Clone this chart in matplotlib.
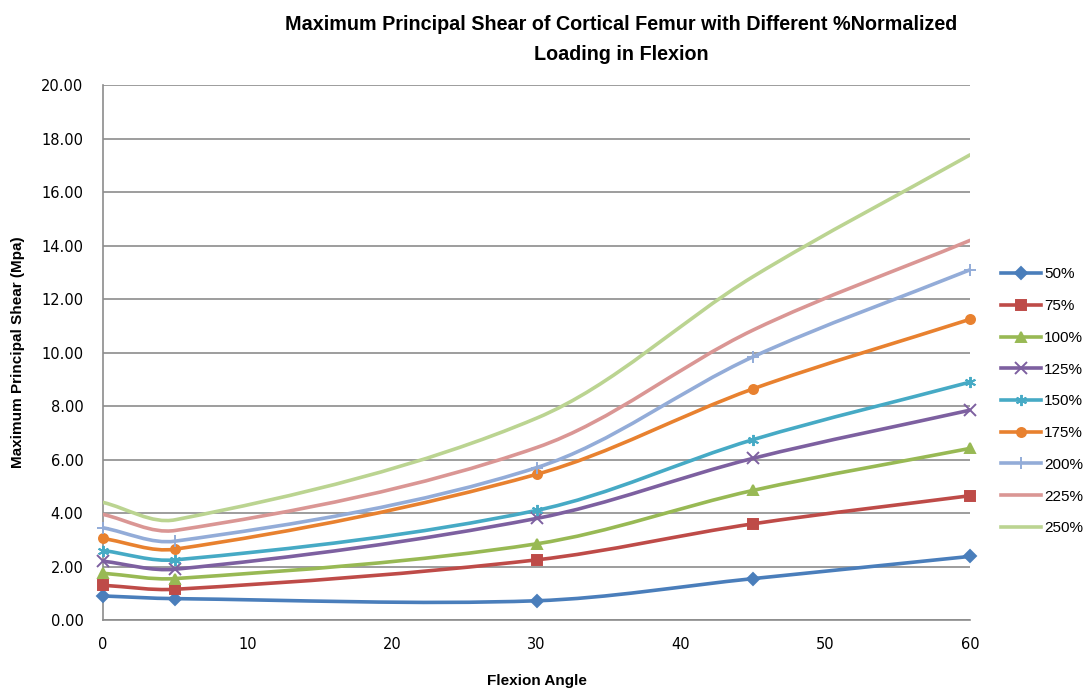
import numpy as np
import matplotlib.pyplot as plt
from matplotlib.path import Path
from matplotlib.patches import PathPatch

plt.switch_backend("Agg")

flexion = [0, 5, 30, 45, 60]
labels = ["50%", "75%", "100%", "125%", "150%", "175%", "200%", "225%", "250%"]
shear = {
    "50%": [0.90, 0.80, 0.72, 1.55, 2.38],
    "75%": [1.30, 1.15, 2.25, 3.60, 4.65],
    "100%": [1.75, 1.55, 2.85, 4.85, 6.42],
    "125%": [2.20, 1.90, 3.80, 6.05, 7.85],
    "150%": [2.60, 2.25, 4.10, 6.75, 8.90],
    "175%": [3.05, 2.65, 5.45, 8.65, 11.25],
    "200%": [3.45, 2.95, 5.70, 9.85, 13.10],
    "225%": [3.95, 3.35, 6.45, 10.85, 14.20],
    "250%": [4.40, 3.75, 7.55, 12.85, 17.40],
}
colors = ["#4A7EBB", "#BE4B48", "#98B954", "#7D60A0", "#46AAC5",
          "#E8812F", "#93ACD8", "#DA9694", "#BBD491"]
markers = ["D", "s", "^", "x", (6, 2, 0), "o", "+", None, None]
plt.rcParams["font.family"] = ["Liberation Sans", "DejaVu Sans"]


def smooth_path(ax, xs, ys):
    # Excel-like smoothed line: Bezier segments, tangents weighted by pixel segment length
    pts = ax.transData.transform(np.column_stack([xs, ys]).astype(float))
    n = len(pts)
    d = np.linalg.norm(np.diff(pts, axis=0), axis=1)
    tan = np.zeros_like(pts)
    tan[0] = pts[1] - pts[0]
    tan[-1] = pts[-1] - pts[-2]
    for i in range(1, n - 1):
        tan[i] = pts[i + 1] - pts[i - 1]
    verts = [pts[0]]
    codes = [Path.MOVETO]
    for i in range(n - 1):
        w1 = 1.0 if i == 0 else d[i] / (d[i - 1] + d[i])
        w2 = 1.0 if i == n - 2 else d[i] / (d[i] + d[i + 1])
        c1 = pts[i] + tan[i] * w1 / 3
        c2 = pts[i + 1] - tan[i + 1] * w2 / 3
        verts += [c1, c2, pts[i + 1]]
        codes += [Path.CURVE4] * 3
    verts = ax.transData.inverted().transform(np.array(verts))
    return Path(verts, codes)


fig = plt.figure(figsize=(10.9, 6.88), dpi=100)
ax = fig.add_axes([0.0945, 0.0988, 0.7955, 0.7772])
ax.set_xlim(0, 60)
ax.set_ylim(0, 20)

for lab, col, mk in zip(labels, colors, markers):
    ys = shear[lab]
    ax.add_patch(PathPatch(smooth_path(ax, flexion, ys), fill=False, edgecolor=col,
                           lw=2.6, zorder=3, capstyle="round"))
    ms = 8 if mk in ("x", "+", (6, 2, 0)) else 6.5
    if mk is not None:
        ax.plot(flexion, ys, ls="none", marker=mk, color=col, ms=ms, mew=1.4,
                zorder=4, clip_on=False)
    ax.plot([], [], color=col, lw=2.6, marker=mk, ms=ms, mew=1.4, label=lab)

ax.set_xticks(range(0, 61, 10))
ax.set_yticks(np.arange(0, 20.1, 2))
ax.yaxis.set_major_formatter(plt.FuncFormatter(lambda v, p: f"{v:.2f}"))
ax.grid(axis="y", color="#8C8C8C", lw=1.2)
ax.set_axisbelow(True)
for s in ["top", "right"]:
    ax.spines[s].set_visible(False)
for s in ["left", "bottom"]:
    ax.spines[s].set_color("#8C8C8C")
    ax.spines[s].set_linewidth(1.2)
ax.tick_params(axis="y", length=0, pad=14)
ax.tick_params(axis="x", length=0, pad=12)
for t in ax.get_xticklabels() + ax.get_yticklabels():
    t.set_family(["DejaVu Sans"])
    t.set_fontsize(10.5)

ax.set_xlabel("Flexion Angle", fontsize=11, fontweight="bold", labelpad=16)
ax.set_ylabel("Maximum Principal Shear (Mpa)", fontsize=11, fontweight="bold", labelpad=12)
fig.suptitle("Maximum Principal Shear of Cortical Femur with Different %Normalized\nLoading in Flexion",
             x=0.57, y=0.978, fontsize=14.2, fontweight="bold", linespacing=1.75)

ax.legend(loc="upper left", bbox_to_anchor=(1.02, 0.685), frameon=False,
          prop={"family": ["Liberation Sans", "DejaVu Sans"], "size": 11},
          handlelength=2.6, labelspacing=1.16, handletextpad=0.2)

fig.savefig("out.png", dpi=100)
